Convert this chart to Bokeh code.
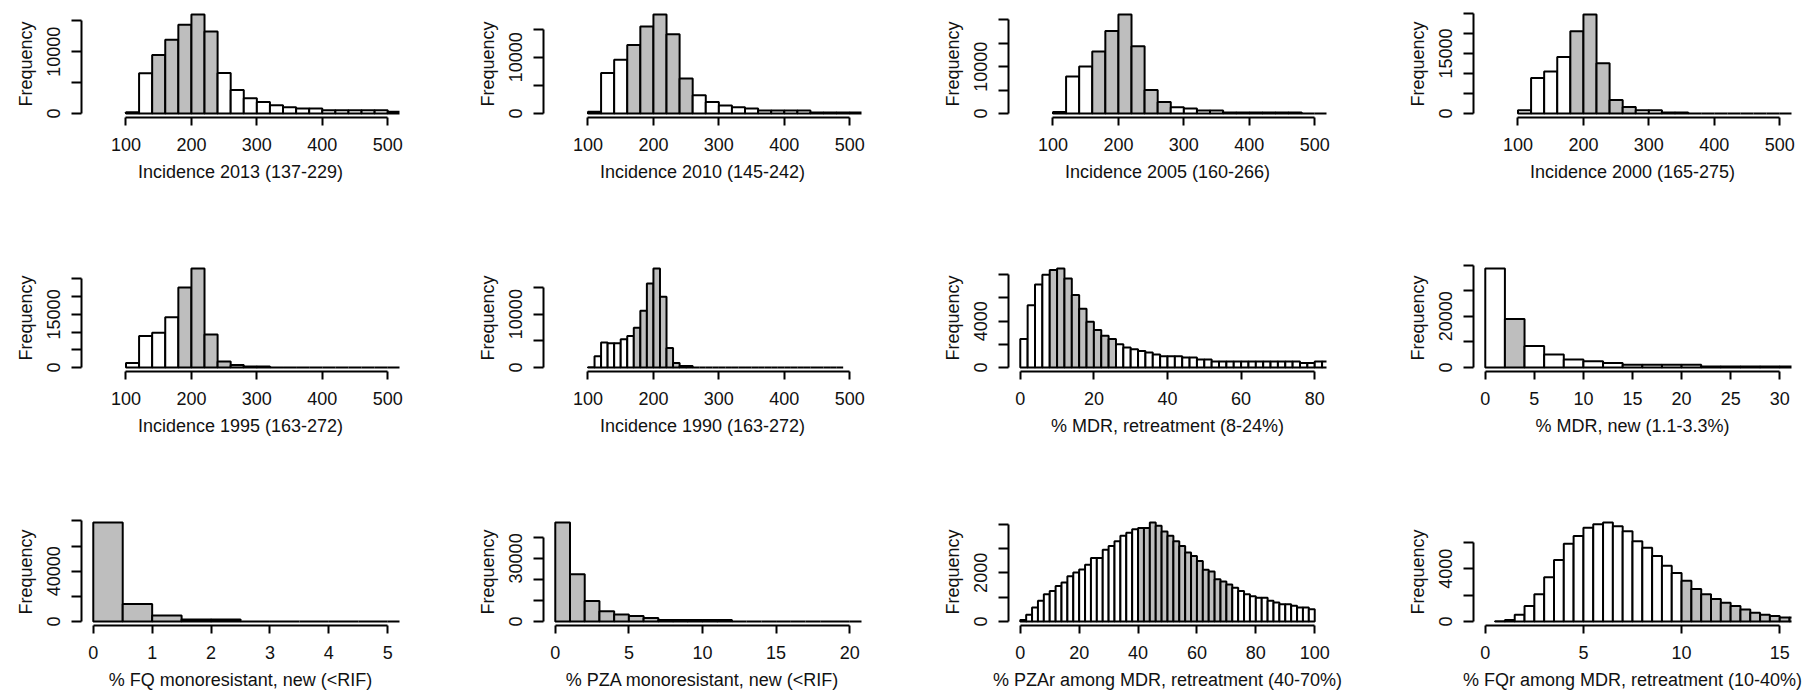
import math
from bokeh.plotting import figure
from bokeh.models import ColumnDataSource, Range1d, FixedTicker
from bokeh.layouts import row, column
from bokeh.embed import file_html
from bokeh.resources import INLINE

# ---------------- data ----------------
xlabels = [
    "Incidence 2013 (137-229)", "Incidence 2010 (145-242)",
    "Incidence 2005 (160-266)", "Incidence 2000 (165-275)",
    "Incidence 1995 (163-272)", "Incidence 1990 (163-272)",
    "% MDR, retreatment (8-24%)", "% MDR, new (1.1-3.3%)",
    "% FQ monoresistant, new (<RIF)", "% PZA monoresistant, new (<RIF)",
    "% PZAr among MDR, retreatment (40-70%)", "% FQr among MDR, retreatment (10-40%)",
]

inc2013 = [200, 6530, 9480, 11950, 14360, 16020, 13280, 6540, 3800, 2460, 1880,
           1340, 1020, 800, 800, 540, 540, 540, 540, 540, 270]
inc2010 = [300, 7180, 9530, 12180, 15470, 17590, 14060, 6240, 3240, 2060, 1410,
           1120, 880, 530, 530, 530, 530, 180, 180, 180, 180]
inc2005 = [350, 7920, 10040, 13220, 17600, 21130, 14350, 5020, 2470, 1340, 1060,
           640, 640, 210, 210, 210, 210, 210, 210, 0, 0]
inc2000 = [830, 8840, 10500, 14130, 20500, 24710, 12560, 3390, 1650, 830, 830,
           250, 250, 0, 0, 0, 0, 0, 0, 0, 0]
inc1995 = [1310, 8910, 9850, 14170, 22610, 27960, 9290, 1690, 750, 280, 280,
           0, 0, 0, 0, 0, 0, 0, 0, 0, 0]
inc1990 = [60, 2120, 4670, 4540, 4540, 5290, 5910, 7470, 10640, 15740, 18550,
           13260, 3670, 870, 310, 310, 0, 0, 0, 0, 0, 0, 0, 0, 0, 0, 0, 0, 0, 0,
           0, 0, 0, 0, 0, 0, 0, 0, 0]
mdr_retreat = [2460, 5360, 7160, 7990, 8400, 8540, 7680, 6250, 5070, 3950, 3240,
               2750, 2460, 2010, 1720, 1580, 1430, 1290, 1120, 970, 970, 970, 860,
               860, 690, 690, 520, 520, 520, 520, 520, 520, 520, 520, 520, 520,
               520, 520, 400, 400, 520, 520]
mdr_new = [38700, 18960, 8440, 5070, 3120, 2470, 1820, 1040, 1040, 1040, 1040,
           390, 390, 390, 390, 390]
fq_mono = [78700, 13900, 4720, 1570, 1570, 0, 0, 0, 0, 0, 0]
pza_mono = [47060, 22430, 9730, 4860, 3290, 2670, 1730, 780, 780, 780, 780, 780,
            0, 0, 0, 0, 0, 0, 0, 0, 0]
pzar_mdr = [60, 280, 580, 850, 1120, 1250, 1460, 1600, 1860, 2010, 2140, 2330,
            2610, 2610, 2950, 3100, 3300, 3520, 3650, 3790, 3840, 3840, 4070,
            3930, 3700, 3520, 3300, 3100, 2840, 2690, 2490, 2130, 2060, 1740,
            1640, 1520, 1390, 1250, 1120, 1040, 980, 980, 850, 780, 710, 710,
            650, 580, 580, 500]
fqr_mdr = [30, 120, 520, 1170, 2070, 3360, 4680, 5900, 6500, 7120, 7390, 7520,
           7240, 6850, 6100, 5600, 4980, 4230, 3680, 3090, 2470, 2070, 1720,
           1420, 1170, 920, 670, 520, 420, 300, 300]

counts = [inc2013, inc2010, inc2005, inc2000, inc1995, inc1990,
          mdr_retreat, mdr_new, fq_mono, pza_mono, pzar_mdr, fqr_mdr]
bin_start = [100, 100, 100, 100, 100, 100, 0, 0, 0, 0, 0, 0.5]
bin_width = [20, 20, 20, 20, 20, 10, 2, 2, 0.5, 1, 2, 0.5]
shade_lo = [137, 145, 160, 165, 163, 163, 8, 1.1, 0, 0, 40, 10]
shade_hi = [229, 242, 266, 275, 272, 272, 24, 3.3, 100, 100, 70, 40]
xlims = [(50, 500)] * 6 + [(0, 80), (0, 30), (0, 5), (0, 20), (0, 100), (0, 15)]
xticks = [[100, 200, 300, 400, 500]] * 6 + [
    [0, 20, 40, 60, 80], [0, 5, 10, 15, 20, 25, 30], [0, 1, 2, 3, 4, 5],
    [0, 5, 10, 15, 20], [0, 20, 40, 60, 80, 100], [0, 5, 10, 15]]
yticks = [
    [0, 5000, 10000, 15000], [0, 5000, 10000, 15000],
    [0, 5000, 10000, 15000, 20000], [0, 5000, 10000, 15000, 20000, 25000],
    [0, 5000, 10000, 15000, 20000, 25000], [0, 5000, 10000, 15000],
    [0, 2000, 4000, 6000, 8000], [0, 10000, 20000, 30000, 40000],
    [0, 20000, 40000, 60000, 80000], [0, 10000, 20000, 30000, 40000],
    [0, 1000, 2000, 3000, 4000], [0, 2000, 4000, 6000]]
ylabeled = [10000, 10000, 10000, 15000, 15000, 10000, 4000, 20000, 40000, 30000, 2000, 4000]

# ---------------- style / layout ----------------
FONT = "Liberation Sans"
FS = "18px"
TXT = "#111111"
GRAY = "#BEBEBE"
FRAME_W, FRAME_H = 318, 107
LEFT = [81, 73, 73, 73]
RIGHT = [71, 74, 74, 15]
TOP = [10, 67, 67]
BOTTOM = [80, 80, 69]


def make_panel(i):
    r, c = divmod(i, 4)
    cnt = counts[i]
    left = [bin_start[i] + k * bin_width[i] for k in range(len(cnt))]
    right = [l + bin_width[i] for l in left]
    fill = [GRAY if shade_lo[i] <= l <= shade_hi[i] else "white" for l in left]
    M = max(cnt)
    x0, x1 = xlims[i]
    pad = 0.04 * (x1 - x0)
    p = figure(frame_width=FRAME_W, frame_height=FRAME_H,
               x_range=Range1d(x0 - pad, x1 + pad),
               y_range=Range1d(-0.04 * M, 1.04 * M),
               output_backend="svg", toolbar_location=None, title=None,
               min_border_left=LEFT[c], min_border_right=RIGHT[c],
               min_border_top=TOP[r], min_border_bottom=BOTTOM[r],
               background_fill_color="white", border_fill_color="white")
    p.outline_line_color = None
    p.xgrid.visible = False
    p.ygrid.visible = False
    src = ColumnDataSource(dict(left=left, right=right, top=cnt,
                                bottom=[0] * len(cnt), fill=fill))
    p.quad(left="left", right="right", top="top", bottom="bottom", source=src,
           fill_color="fill", line_color="black", line_width=2)

    xa = p.xaxis[0]
    ya = p.yaxis[0]
    for ax in (xa, ya):
        ax.axis_line_width = 2
        ax.axis_line_color = "black"
        ax.major_tick_line_width = 2
        ax.major_tick_line_color = "black"
        ax.major_tick_in = 0
        ax.minor_tick_line_color = None
        ax.major_label_text_font = FONT
        ax.major_label_text_font_size = FS
        ax.major_label_text_color = TXT
        ax.axis_label_text_font = FONT
        ax.axis_label_text_font_size = FS
        ax.axis_label_text_font_style = "normal"
        ax.axis_label_text_color = TXT

    xa.ticker = FixedTicker(ticks=xticks[i])
    xa.bounds = (xticks[i][0], xticks[i][-1])
    xa.major_label_overrides = {t: str(t) for t in xticks[i]}
    xa.major_tick_out = 8
    xa.major_label_standoff = 12
    xa.axis_label_standoff = 8
    xa.axis_label = xlabels[i]

    ya.ticker = FixedTicker(ticks=yticks[i])
    ya.bounds = (yticks[i][0], yticks[i][-1])
    ya.major_label_overrides = {t: (str(t) if t in (0, ylabeled[i]) else "")
                                for t in yticks[i]}
    ya.major_label_orientation = "parallel"
    ya.major_tick_out = 10
    ya.major_label_standoff = 11
    ya.axis_label_standoff = 9
    ya.axis_label = "Frequency"
    return p


panels = [make_panel(i) for i in range(12)]
layout = column(row(*panels[0:4]), row(*panels[4:8]), row(*panels[8:12]))

open("out.html", "w").write(file_html(layout, INLINE))
